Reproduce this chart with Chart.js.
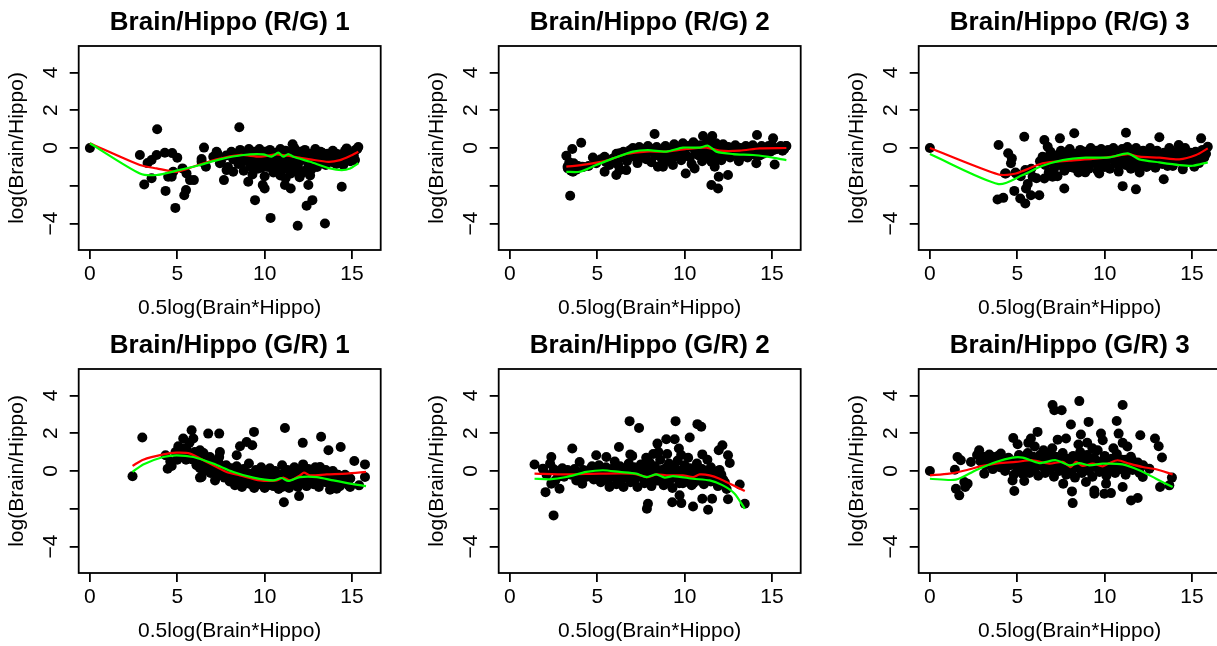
<!DOCTYPE html>
<html>
<head>
<meta charset="utf-8">
<script src="https://cdn.jsdelivr.net/npm/chart.js@4.4.1/dist/chart.umd.min.js"></script>
<style>
  html, body { margin: 0; padding: 0; background: #fff; overflow: hidden; width: 1217px; height: 646px; }
  canvas { position: absolute; }
</style>
</head>
<body>
<script>
// ---- data ----
const panelTitles = ['Brain/Hippo (R/G) 1', 'Brain/Hippo (R/G) 2', 'Brain/Hippo (R/G) 3',
                     'Brain/Hippo (G/R) 1', 'Brain/Hippo (G/R) 2', 'Brain/Hippo (G/R) 3'];
const xAxisLabel = '0.5log(Brain*Hippo)';
const yAxisLabel = 'log(Brain/Hippo)';
const xTicks = [0, 5, 10, 15];
const yTicks = [-4, -2, 0, 2, 4];
const yTickLabels = ['\u22124', '', '0', '2', '4'];
const xRange = [-0.64, 16.64];
const yRange = [-5.4, 5.4];

const rg1Points = [[0,0],[2.86,-0.37],[3.11,-1.93],[3.3,-0.8],[3.53,-0.64],[3.85,0.99],[3.82,-0.37],[3.53,-1.6],[4.29,-0.25],[4.33,-2.27],[4.48,-1.52],[4.71,-0.27],[5.0,-0.51],[4.68,-1.52],[4.89,-3.17],[4.77,-1.26],[5.3,-1.08],[5.4,-2.5],[5.5,-2.23],[5.53,-1.35],[5.73,-1.7],[5.95,-1.7],[6.39,-0.58],[6.53,0.02],[6.64,-0.99],[6.39,-0.73],[7.06,-0.46],[7.25,-0.2],[7.44,-0.81],[7.67,-1.7],[7.82,-1.17],[8.2,-1.26],[8.55,1.1],[9.06,-1.79],[9.45,-2.76],[9.89,-1.96],[10.0,-2.14],[10.34,-3.7],[11.16,-1.96],[11.49,-2.14],[11.89,-4.12],[12.5,-1.96],[12.4,-3.06],[12.73,-2.76],[13.45,-4.0],[14.41,-2.05],[14.69,-0.02],[15.36,0.05],[15.17,-0.64],[11.6,0.2],
  [7.3,-0.3],[7.5,-0.7],[7.8,-0.4],[7.9,-1.0],[8.1,-0.2],[8.2,-0.6],[8.4,-0.35],[8.5,-0.85],[8.6,-0.1],[8.7,-0.5],[8.8,-1.2],[8.9,-0.25],[9.0,-0.7],[9.1,-0.05],[9.2,-0.45],[9.3,-0.95],[9.4,-0.2],[9.5,-0.65],[9.6,-1.1],[9.7,-0.05],[9.8,-0.4],[9.9,-0.8],[10.0,-0.2],[10.1,-0.6],[10.2,-1.0],[10.3,-0.1],[10.4,-0.45],[10.5,-0.75],[10.6,-0.25],[10.7,-1.2],[10.8,-0.55],[10.9,-0.05],[11.0,-0.35],[11.1,-0.85],[11.2,-0.15],[11.3,-0.6],[11.4,-1.05],[11.5,-0.3],[11.6,-0.75],[11.7,0.0],[11.8,-0.45],[11.9,-0.95],[12.0,-0.2],[12.1,-0.65],[12.2,-1.3],[12.3,-0.1],[12.4,-0.5],[12.5,-0.85],[12.6,-0.3],[12.7,-1.1],[12.8,-0.6],[12.9,-0.05],[13.0,-0.4],[13.1,-0.8],[13.2,-0.2],[13.3,-0.55],[13.5,-0.9],[13.6,-0.3],[13.7,-0.65],[13.9,-0.15],[14.0,-0.5],[14.1,-0.85],[14.3,-0.35],[14.5,-0.6],[14.6,-0.15],[14.8,-0.45],[15.0,-0.25],[15.1,-0.6],[15.2,-0.1],
  [9.3,-1.4],[10.0,-1.5],[10.9,-1.45],[11.2,-1.6],[11.5,-1.35],[12.0,-1.55],[12.6,-1.45],[10.5,-1.3],[11.8,-1.2],
  [8.3,-0.5],[8.5,-0.25],[8.7,-0.75],[8.9,-0.5],[9.1,-0.3],[9.3,-0.65],[9.5,-0.4],[9.7,-0.8],[9.9,-0.25],[10.1,-0.5],[10.3,-0.8],[10.5,-0.3],[10.7,-0.6],[10.9,-0.9],[11.1,-0.4],[11.3,-0.25],[11.5,-0.65],[11.7,-0.45],[11.9,-0.7],[12.1,-0.3],[12.3,-0.6],[12.5,-0.45],[12.7,-0.8],[12.9,-0.35],[13.1,-0.55],[13.3,-0.25],[13.5,-0.6],[13.7,-0.4],[13.9,-0.75],[14.1,-0.3],[14.3,-0.6],[14.5,-0.9],[14.7,-0.35],[14.9,-0.7],[15.1,-0.4],[15.3,-0.05],[9.2,-1.0],[9.8,-1.05],[10.6,-1.0],[11.2,-1.1],[11.9,-1.1],[12.4,-1.15],[13.0,-1.0]];
const rg1Red = [[0,0.25],[2.86,-0.9],[3.82,-1.08],[4.96,-1.26],[5.92,-0.99],[7.25,-0.6],[8.59,-0.37],[9.73,-0.46],[10.69,-0.34],[11.64,-0.46],[12.6,-0.6],[13.65,-0.73],[14.31,-0.64],[14.89,-0.42],[15.36,-0.2]];
const rg1Green = [[0,0.25],[2.86,-1.35],[3.82,-1.43],[4.96,-1.2],[6.3,-0.9],[7.44,-0.6],[8.78,-0.37],[9.92,-0.34],[10.4,-0.46],[10.78,-0.25],[11.07,-0.46],[11.35,-0.32],[11.64,-0.46],[12.6,-0.73],[13.74,-1.08],[14.41,-1.17],[14.89,-1.08],[15.36,-0.81]];

const rg2Points = [[3.23,-0.41],[3.57,-0.05],[3.32,-1.08],[3.45,-2.53],[3.65,-0.81],[4.08,0.28],[3.61,-1.26],[4.14,-0.99],[4.75,-0.5],[4.94,-0.81],[5.42,-0.46],[5.42,-1.26],[5.74,-0.78],[6.09,-1.43],[6.28,-1.17],[6.66,-1.17],[6.28,-0.28],[7.04,0],[7.42,-0.55],[8.28,0.74],[8.47,-0.99],[8.76,-0.99],[9.33,-0.9],[10.06,-1.35],[10.57,-1.08],[11.05,0.64],[11.58,0.64],[11.53,-0.73],[11.72,-0.99],[11.53,-1.96],[11.91,-2.14],[11.95,-1.52],[12.48,-1.43],[14.1,-0.81],[14.14,0.69],[15.06,0.51],[15.15,-0.87],[15.82,0.11],
  [3.3,-1.0],[3.4,-0.75],[3.5,-1.2],[3.6,-0.9],[3.8,-1.15],[3.9,-0.95],[4.2,-1.0],[4.5,-0.95],[4.9,-0.7],[5.2,-0.6],[5.5,-0.75],[5.7,-0.9],[5.9,-0.55],[6.1,-0.3],[6.2,-0.9],
  [6.3,-0.5],[6.5,-0.2],[6.7,-0.7],[6.9,-0.1],[7.1,-0.45],[7.3,-0.8],[7.4,0.05],[7.6,-0.3],[7.8,-0.6],[7.9,0.1],[8.0,-0.2],[8.1,-0.75],[8.3,-0.4],[8.4,0.05],[8.6,-0.15],[8.7,-0.6],[8.9,0.1],[9.0,-0.35],[9.1,-0.7],[9.3,-0.1],[9.4,0.2],[9.5,-0.45],[9.7,0.0],[9.8,-0.65],[9.9,0.25],[10.0,-0.25],[10.2,0.1],[10.3,-0.5],[10.4,-0.85],[10.5,0.3],[10.6,-0.15],[10.8,-0.4],[10.9,0.15],[11.0,-0.7],[11.1,0.05],[11.2,-0.25],[11.3,0.35],[11.4,-0.55],[11.5,0.1],[11.6,-0.2],[11.7,-0.8],[11.8,0.25],[11.9,-0.4],[12.0,0.0],[12.1,-0.65],[12.2,0.2],[12.3,-0.25],[12.5,0.05],[12.6,-0.5],[12.7,-0.15],[12.9,0.15],[13.0,-0.35],[13.1,-0.7],[13.2,0.0],[13.4,-0.25],[13.5,0.1],[13.6,-0.5],[13.8,-0.1],[13.9,0.15],[14.0,-0.35],[14.2,-0.05],[14.4,0.1],[14.5,-0.3],[14.7,0.0],[14.9,-0.2],[15.0,0.15],[15.3,-0.05],[15.5,0.1],[15.7,-0.05],
  [6.8,-0.35],[7.0,-0.15],[7.2,-0.5],[7.5,-0.3],[7.7,-0.05],[8.2,-0.05],[8.5,-0.35],[8.8,-0.2],[9.2,-0.45],[9.6,-0.2],[10.1,-0.4],[10.4,0.05],[10.7,-0.3],[11.0,0.0],[11.3,-0.35],[11.6,0.05],[11.9,-0.2],[12.2,-0.45],[12.4,-0.1],[12.8,-0.35],[13.1,-0.05],[13.3,-0.45],[13.7,-0.2],[14.1,-0.15],[14.3,-0.4],[14.6,-0.15],[14.8,0.1],[15.1,-0.1],[15.4,0.0],[15.6,-0.15],[15.8,0.1]];
const rg2Red = [[3.23,-0.99],[4.37,-0.87],[5.52,-0.67],[6.66,-0.32],[7.81,-0.19],[8.95,-0.19],[10.1,-0.05],[11.24,0.02],[12.0,-0.14],[13.15,-0.14],[14.29,-0.02],[15.82,0]];
const rg2Green = [[3.23,-1.26],[3.99,-1.26],[4.94,-0.9],[5.9,-0.55],[7.04,-0.19],[7.9,-0.11],[8.95,-0.19],[9.9,0.02],[10.86,0.02],[11.34,0.12],[11.81,-0.19],[12.77,-0.32],[13.91,-0.37],[14.68,-0.46],[15.82,-0.64]];

const rg3Points = [[0,0],[3.93,0.16],[3.87,-2.73],[4.2,-2.64],[4.48,-0.28],[4.69,-0.55],[4.64,-0.81],[4.35,-1.35],[4.83,-2.27],[4.92,-1.35],[5.4,0.6],[5.17,-2.67],[5.46,-2.94],[5.5,-2.14],[5.78,-2.5],[5.46,-1.17],[5.88,-1.52],[6.26,-2.5],[6.55,0.42],[6.74,0.07],[6.55,-1.61],[6.45,-0.46],[7.02,-1.52],[7.44,0.51],[7.69,-2.14],[8.26,0.78],[7.4,-0.46],[8.89,-1.29],[9.69,-1.35],[11.03,-2.02],[11.22,0.81],[11.79,-2.19],[13.13,0.57],[13.38,-1.65],[14.24,0.16],[15.52,0.51],[15.9,0.07],[14.47,-1.13],[15.13,-0.99],
  [4.3,-1.35],[4.9,-1.3],[5.2,-1.5],[5.6,-1.9],[5.8,-1.1],[6.1,-1.6],[6.3,-0.7],
  [6.6,-0.9],[6.7,-0.5],[6.8,-1.3],[6.9,-0.2],[7.0,-0.75],[7.1,-1.1],[7.2,-0.4],[7.3,-1.5],[7.4,-0.9],[7.5,-0.15],[7.6,-0.6],[7.7,-1.2],[7.8,-0.35],[7.9,-0.85],[8.0,-0.05],[8.1,-0.55],[8.2,-1.05],[8.3,-0.3],[8.4,-0.75],[8.5,-1.3],[8.6,-0.1],[8.7,-0.5],[8.8,-0.95],[8.9,-0.2],[9.0,-0.65],[9.1,-1.1],[9.2,0.0],[9.3,-0.4],[9.4,-0.8],[9.5,-0.15],[9.6,-1.2],[9.7,-0.55],[9.8,-0.05],[9.9,-0.95],[10.0,-0.3],[10.1,-0.7],[10.2,-0.1],[10.3,-1.1],[10.4,-0.45],[10.5,0.0],[10.6,-0.8],[10.7,-0.25],[10.8,-1.25],[10.9,-0.6],[11.0,-0.05],[11.1,-0.35],[11.2,-0.9],[11.3,0.05],[11.4,-0.55],[11.5,-1.1],[11.6,-0.2],[11.7,-0.75],[11.8,0.0],[11.9,-0.4],[12.0,-1.3],[12.1,-0.8],[12.2,-0.15],[12.3,-0.55],[12.4,-1.0],[12.5,-0.3],[12.6,0.0],[12.7,-0.7],[12.8,-0.35],[12.9,-1.05],[13.0,-0.15],[13.1,-0.55],[13.3,-0.85],[13.4,-0.25],[13.6,-0.6],[13.7,0.0],[13.8,-0.4],[13.9,-0.95],[14.1,-0.2],[14.2,-0.65],[14.4,-0.4],[14.5,-0.9],[14.6,0.0],[14.8,-0.5],[14.9,-0.25],[15.1,-0.75],[15.3,-0.35],[15.5,-0.55],[15.6,-0.1],[15.8,-0.3],
  [7.6,-0.9],[7.8,-0.6],[8.0,-1.0],[8.2,-0.4],[8.4,-1.1],[8.6,-0.7],[8.8,-0.35],[9.0,-0.9],[9.2,-0.6],[9.4,-0.3],[9.6,-0.8],[9.8,-0.45],[10.0,-1.0],[10.2,-0.6],[10.4,-0.2],[10.6,-0.5],[10.8,-0.9],[11.0,-0.7],[11.2,-0.3],[11.4,-0.8],[11.6,-0.5],[11.8,-1.0],[12.0,-0.2],[12.2,-0.7],[12.4,-0.4],[12.6,-0.9],[12.8,-0.55],[13.0,-0.3],[13.2,-0.7],[13.4,-0.45],[13.6,-0.95],[13.8,-0.2],[14.0,-0.6],[14.3,-0.3],[14.7,-0.7],[15.0,-0.45],[15.2,-0.2],[15.4,-0.8],[15.7,-0.5]];
const rg3Red = [[0,0],[3.93,-1.4],[4.92,-1.35],[6.45,-0.81],[7.98,-0.67],[9.31,-0.58],[10.46,-0.46],[11.32,-0.32],[11.98,-0.46],[13.13,-0.51],[14.27,-0.6],[15.23,-0.37],[15.9,-0.02]];
const rg3Green = [[0,-0.32],[3.93,-1.91],[5.31,-1.43],[6.45,-0.94],[7.6,-0.64],[8.93,-0.51],[10.27,-0.5],[11.32,-0.28],[11.98,-0.6],[13.13,-0.76],[14.27,-0.9],[15.04,-0.94],[15.9,-0.76]];

const gr1Points = [[2.44,-0.28],[3.0,1.77],[4.33,0.83],[4.45,0.12],[4.68,0.27],[5.06,1.31],[5.34,1.72],[5.82,2.16],[5.92,1.72],[5.53,1.19],[5.31,0.74],[6.3,1.1],[6.39,-0.32],[6.77,1.98],[6.87,0.74],[7.4,1.98],[7.44,1.0],[7.4,0.74],[7.16,-0.5],[8.59,1.31],[8.97,1.54],[9.29,1.36],[9.39,2.07],[8.4,0.83],[11.16,2.28],[11.1,-1.65],[11.97,-1.33],[12.18,1.49],[13.23,1.81],[13.65,1.1],[14.35,1.27],[15.13,0.53],[15.74,0.35],[15.74,-0.32],[15.4,-0.76],[14.89,-0.85],[14.12,-0.94],[13.74,-0.99],[13.17,0.21],
  [4.6,0.5],[4.9,1.0],[5.0,0.6],[5.2,0.85],[5.4,1.2],[5.5,0.6],[5.6,0.95],[5.8,0.65],[6.0,1.0],[5.7,1.5],[6.3,-0.35],[6.5,0.95],
  [5.9,0.6],[6.1,0.3],[6.2,0.9],[6.4,0.45],[6.5,0.0],[6.6,0.75],[6.7,0.25],[6.9,-0.1],[7.0,0.55],[7.1,0.15],[7.3,-0.25],[7.4,0.4],[7.5,0.0],[7.7,-0.35],[7.8,0.3],[7.9,-0.1],[8.0,-0.55],[8.1,0.15],[8.2,-0.3],[8.3,-0.75],[8.4,0.25],[8.5,-0.1],[8.6,-0.5],[8.7,-0.85],[8.8,0.1],[8.9,-0.3],[9.0,-0.65],[9.1,0.4],[9.2,-0.15],[9.3,-0.5],[9.4,-0.9],[9.5,0.05],[9.6,-0.3],[9.7,-0.7],[9.8,0.2],[9.9,-0.45],[10.0,-0.9],[10.1,-0.1],[10.2,-0.6],[10.3,0.15],[10.4,-0.35],[10.5,-0.8],[10.6,0.0],[10.7,-0.55],[10.8,-0.95],[10.9,-0.2],[11.0,0.3],[11.1,-0.7],[11.2,-0.4],[11.3,0.05],[11.4,-0.9],[11.5,-0.25],[11.6,-0.6],[11.7,0.2],[11.8,-0.4],[11.9,-0.85],[12.0,-0.05],[12.1,-0.6],[12.2,0.35],[12.3,-0.3],[12.4,-0.8],[12.5,0.1],[12.6,-0.5],[12.7,-0.15],[12.8,-0.7],[12.9,0.2],[13.0,-0.4],[13.1,-0.85],[13.2,-0.1],[13.4,-0.55],[13.5,0.05],[13.6,-0.3],[13.8,-0.7],[13.9,0.0],[14.0,-0.45],[14.2,-0.2],[14.3,-0.8],[14.5,-0.35],[14.7,-0.6],[14.9,-0.4],
  [6.3,0.15],[6.6,0.45],[6.8,0.1],[7.0,0.3],[7.2,-0.1],[7.5,0.25],[7.7,-0.1],[8.0,0.0],[8.2,-0.5],[8.4,-0.2],[8.6,-0.6],[8.8,-0.35],[9.0,-0.1],[9.2,-0.7],[9.4,-0.3],[9.6,-0.55],[9.8,-0.15],[10.0,-0.45],[10.2,-0.75],[10.4,-0.2],[10.6,-0.6],[10.8,-0.35],[11.0,-0.85],[11.2,-0.1],[11.4,-0.5],[11.6,-0.25],[11.8,-0.7],[12.0,-0.4],[12.2,-0.1],[12.4,-0.55],[12.6,-0.25],[12.8,-0.4],[13.0,-0.7],[13.2,-0.3],[13.5,-0.6],[13.8,-0.4],[14.0,-0.15],[14.3,-0.55],[14.6,-0.2],[14.8,-0.75]];
const gr1Red = [[2.44,0.27],[3.05,0.6],[4.2,0.88],[4.96,0.97],[5.73,0.92],[6.68,0.48],[7.82,-0.05],[8.59,-0.23],[9.73,-0.5],[10.69,-0.5],[11.07,-0.35],[11.45,-0.5],[12.02,-0.23],[12.25,-0.09],[12.6,-0.23],[13.55,-0.18],[14.69,-0.14],[15.8,-0.05]];
const gr1Green = [[2.44,-0.05],[3.05,0.35],[4.2,0.74],[4.96,0.83],[5.92,0.74],[7.06,0.39],[8.21,-0.05],[9.35,-0.35],[10.5,-0.5],[10.97,-0.37],[11.35,-0.53],[12.02,-0.32],[12.98,-0.32],[13.93,-0.5],[14.89,-0.67],[15.8,-0.8]];

const gr2Points = [[1.41,0.34],[1.89,0.12],[2.04,-1.12],[2.37,0.74],[2.5,-2.35],[2.37,-0.67],[2.84,-0.94],[2.75,-0.32],[3.57,1.19],[3.99,0.48],[4.14,-0.67],[4.94,0.83],[5.52,0.74],[6.24,1.27],[6.85,2.64],[7.39,2.28],[6.89,0.88],[7.9,-1.73],[7.84,-2.0],[8.44,1.45],[8.95,1.68],[9.43,1.68],[9.48,2.64],[9.67,1.19],[9.29,-1.65],[9.81,-1.7],[9.71,-1.29],[10.29,1.77],[10.48,-1.88],[10.73,2.48],[10.95,2.34],[11.01,0.88],[11.01,-1.47],[11.34,-2.05],[11.57,-1.47],[11.95,1.1],[12.16,1.36],[12.48,0.83],[12.58,0.42],[12.48,-1.5],[13.15,-0.71],[13.44,-1.73],
  [1.9,0.1],[2.1,-0.2],[2.3,0.4],[2.5,0.1],[2.6,-0.5],[2.8,0.0],[3.0,0.15],[3.1,-0.3],[3.3,0.05],[3.5,-0.2],[3.7,0.1],[3.8,-0.5],[4.0,-0.2],[4.2,0.05],[4.4,-0.3],[4.6,0.1],[4.8,-0.45],[4.9,-0.1],[5.1,0.3],[5.2,-0.6],[5.3,-0.2],[5.5,0.2],[5.6,-0.5],[5.7,-0.85],[5.8,0.05],[5.9,-0.3],[6.0,0.5],[6.1,-0.7],[6.2,-0.1],[6.3,0.25],[6.4,-0.45],[6.5,-0.85],[6.6,0.05],[6.7,-0.3],[6.8,0.4],[6.9,-0.6],[7.0,-0.1],[7.1,0.2],[7.2,-0.4],[7.3,-0.85],[7.4,0.0],[7.5,0.35],[7.6,-0.25],[7.7,-0.65],[7.8,0.1],[7.9,-0.4],[8.0,0.45],[8.1,-0.8],[8.2,-0.15],[8.3,0.25],[8.4,-0.5],[8.5,0.0],[8.6,0.6],[8.7,-0.3],[8.8,-0.75],[8.9,0.15],[9.0,-0.5],[9.1,0.4],[9.2,-0.1],[9.3,-0.9],[9.4,0.2],[9.5,-0.35],[9.6,0.55],[9.7,-0.65],[9.8,0.0],[9.9,-0.3],[10.0,0.3],[10.1,-0.55],[10.2,-0.1],[10.3,0.15],[10.4,-0.75],[10.5,-0.35],[10.6,0.05],[10.7,0.4],[10.8,-0.5],[10.9,-0.2],[11.0,0.1],[11.1,-0.7],[11.2,-0.4],[11.4,0.0],[11.5,-0.55],[11.7,-0.25],[11.9,-0.8],[12.0,0.05],[12.2,-0.45],[12.4,-0.95],
  [7.0,0.8],[7.8,0.7],[8.2,0.9],[8.5,1.0],[9.0,0.9],[9.8,0.85],[10.2,0.7],[11.3,0.6],
  [4.5,-0.15],[4.7,0.25],[5.0,-0.3],[5.4,0.0],[5.7,-0.25],[5.9,0.15],[6.1,-0.4],[6.3,-0.05],[6.5,-0.3],[6.7,0.15],[6.9,-0.2],[7.1,-0.55],[7.3,0.1],[7.5,-0.3],[7.7,-0.05],[7.9,0.2],[8.1,-0.4],[8.3,-0.1],[8.5,-0.5],[8.7,0.05],[8.9,-0.25],[9.1,-0.6],[9.3,-0.2],[9.5,0.1],[9.7,-0.35],[9.9,-0.65],[10.1,0.05],[10.3,-0.3],[10.5,-0.65],[10.7,-0.05],[10.9,-0.45],[11.1,-0.15],[11.3,-0.5],[11.5,0.2],[11.7,-0.5],[11.9,0.0],[12.1,-0.2],[12.3,-0.6]];
const gr2Red = [[1.41,-0.14],[3.23,-0.18],[5.13,-0.14],[7.04,-0.14],[7.9,-0.32],[8.38,-0.18],[8.95,-0.23],[9.9,-0.23],[10.48,-0.32],[10.86,-0.18],[11.43,-0.23],[12.0,-0.41],[12.77,-0.76],[13.44,-1.06]];
const gr2Green = [[1.41,-0.41],[2.27,-0.44],[3.23,-0.32],[4.37,-0.05],[5.32,0.04],[6.28,-0.05],[7.23,-0.14],[7.81,-0.32],[8.38,-0.18],[8.86,-0.35],[9.33,-0.27],[10.48,-0.41],[11.43,-0.5],[12.19,-0.76],[12.86,-1.2],[13.44,-2.0]];

const gr3Points = [[0,0],[1.43,0.07],[1.49,-0.94],[1.58,0.74],[1.68,-1.29],[1.77,0.57],[1.97,-0.58],[2.02,-0.85],[2.16,-0.67],[2.35,0.48],[2.82,1.1],[3.11,-0.14],[3.4,0.87],[3.59,0.74],[4.06,0.92],[4.25,0.57],[4.77,1.75],[4.83,-1.06],[4.73,-0.5],[5.02,1.42],[5.63,1.49],[5.78,1.72],[6.16,2.07],[5.4,-0.53],[7.02,3.49],[7.12,3.22],[7.54,3.22],[7.31,1.66],[7.79,1.72],[7.63,-0.67],[8.07,2.46],[8.13,-1.08],[8.17,-1.7],[8.55,3.7],[8.64,1.93],[9.08,2.6],[8.93,-0.58],[9.41,-1.2],[9.41,-1.03],[9.79,1.98],[9.89,1.63],[10.08,-0.67],[9.98,-1.2],[10.36,-1.17],[10.69,2.65],[10.8,1.98],[11.03,3.49],[11.03,1.49],[11.03,-0.85],[11.51,-1.56],[11.89,-1.43],[12.04,1.89],[12.18,-0.32],[12.56,0.12],[12.88,1.72],[13.09,1.31],[13.28,0.71],[13.17,-0.85],[13.7,-0.76],[13.85,-0.35],[11.56,0.6],
  [2.7,0.85],[2.9,0.5],[3.1,0.75],[3.2,0.3],[3.4,0.6],[3.6,0.1],[3.7,0.45],[3.9,0.8],[4.0,0.2],[4.2,0.5],[4.3,0.0],[4.5,0.7],[4.6,0.3],[4.8,-0.2],[4.9,0.55],[5.0,0.1],[5.1,0.85],[5.2,0.35],[5.3,-0.15],[5.4,0.6],[5.5,0.15],[5.6,0.95],[5.7,-0.1],[5.8,0.4],[5.9,0.75],[6.0,0.1],[6.1,0.5],[6.2,-0.25],[6.3,0.85],[6.4,0.25],[6.5,0.6],[6.6,-0.1],[6.7,0.4],[6.8,0.9],[6.9,0.1],[7.0,0.55],[7.1,-0.3],[7.2,0.75],[7.3,0.25],[7.4,0.0],[7.5,0.5],[7.6,0.95],[7.7,0.15],[7.8,-0.2],[7.9,0.65],[8.0,0.35],[8.1,0.0],[8.2,0.8],[8.3,-0.35],[8.4,0.45],[8.5,0.15],[8.6,1.0],[8.7,-0.1],[8.8,0.6],[8.9,0.3],[9.0,0.85],[9.1,0.0],[9.2,0.45],[9.3,-0.3],[9.4,0.7],[9.5,0.2],[9.6,1.1],[9.7,-0.05],[9.8,0.5],[9.9,0.25],[10.0,0.8],[10.1,-0.25],[10.2,0.4],[10.3,0.05],[10.4,0.65],[10.5,0.3],[10.6,-0.1],[10.7,0.9],[10.8,0.45],[10.9,0.1],[11.0,0.6],[11.2,-0.2],[11.3,0.35],[11.5,0.75],[11.6,0.05],[11.8,0.4],[12.0,-0.1],[12.2,0.3],
  [6.0,1.3],[6.5,1.1],[7.0,1.2],[8.5,1.4],[9.0,1.5],[9.3,1.2],[10.5,1.2],[11.3,1.3],
  [3.3,0.45],[3.8,0.3],[4.1,0.6],[4.4,0.3],[4.7,0.5],[5.0,0.3],[5.3,0.7],[5.5,0.4],[5.7,0.2],[6.0,0.6],[6.2,0.3],[6.4,0.75],[6.6,0.2],[6.8,0.5],[7.0,0.2],[7.2,0.4],[7.4,0.7],[7.6,0.3],[7.8,0.5],[8.0,0.1],[8.2,0.4],[8.4,0.7],[8.6,0.3],[8.8,0.1],[9.0,0.45],[9.2,0.2],[9.4,0.55],[9.6,0.3],[9.8,0.1],[10.0,0.5],[10.2,0.15],[10.4,0.3],[10.6,0.55],[10.8,0.2],[11.0,0.35],[11.2,0.6],[11.4,0.1],[11.7,0.2],[11.9,0.45]];
const gr3Red = [[0,-0.23],[1.11,-0.14],[2.06,0.04],[3.02,0.27],[3.97,0.42],[4.92,0.48],[5.88,0.57],[6.83,0.39],[7.6,0.48],[8.07,0.21],[8.36,0.48],[8.74,0.27],[9.31,0.39],[9.89,0.25],[10.27,0.42],[10.74,0.57],[11.41,0.39],[12.18,0.21],[12.94,0.09],[13.89,-0.18]];
const gr3Green = [[0,-0.41],[1.49,-0.46],[2.63,0.04],[3.78,0.48],[4.73,0.71],[5.31,0.71],[6.26,0.42],[7.21,0.57],[7.98,0.3],[8.55,0.42],[9.12,0.3],[9.89,0.39],[11.03,0.35],[11.98,0.04],[12.94,-0.41],[13.89,-0.85]];

const panelPoints = [rg1Points, rg2Points, rg3Points, gr1Points, gr2Points, gr3Points];
const panelRed = [rg1Red, rg2Red, rg3Red, gr1Red, gr2Red, gr3Red];
const panelGreen = [rg1Green, rg2Green, rg3Green, gr1Green, gr2Green, gr3Green];

// ---- drawing ----
const FONT = '"Liberation Sans", Arial, Helvetica, sans-serif';
const CELL_W = 420, CELL_H = 323;

// R style box around the plot region
const boxPlugin = {
    id: 'plotBox',
    afterDatasetsDraw(chart) {
        const { ctx, chartArea: a } = chart;
        ctx.save();
        ctx.strokeStyle = '#000';
        ctx.lineWidth = 1.8;
        ctx.strokeRect(a.left, a.top, a.right - a.left, a.bottom - a.top);
        ctx.restore();
    }
};

function makePanel(i) {
    const canvas = document.createElement('canvas');
    canvas.width = CELL_W;
    canvas.height = CELL_H;
    canvas.style.left = Math.round((i % 3) * 420.15) + 'px';
    canvas.style.top = (Math.floor(i / 3) * CELL_H) + 'px';
    document.body.appendChild(canvas);

    const lineDs = (data, color) => ({
        data: data,
        showLine: true,
        borderColor: color,
        borderWidth: 2.2,
        pointRadius: 0,
        tension: 0.25,
        fill: false
    });

    new Chart(canvas, {
        type: 'scatter',
        data: {
            datasets: [
                lineDs(panelGreen[i], '#00FF00'),
                lineDs(panelRed[i], '#FF0000'),
                {
                    data: panelPoints[i],
                    pointRadius: 5,
                    pointBorderWidth: 0,
                    pointBackgroundColor: '#000',
                    pointBorderColor: '#000'
                }
            ]
        },
        options: {
            responsive: false,
            animation: false,
            devicePixelRatio: 1,
            layout: { padding: { left: 0, right: 39.3, top: 0, bottom: 0 } },
            plugins: {
                legend: { display: false },
                tooltip: { enabled: false },
                title: {
                    display: true,
                    text: panelTitles[i],
                    fullSize: false,
                    color: '#000',
                    font: { family: FONT, size: 26, weight: 'bold', lineHeight: 1.2 },
                    padding: { top: 7.6, bottom: 7.2 }
                }
            },
            scales: {
                x: {
                    type: 'linear',
                    min: xRange[0],
                    max: xRange[1],
                    afterBuildTicks: s => { s.ticks = xTicks.map(v => ({ value: v })); },
                    afterFit: s => { s.height = 73; },
                    border: { display: false },
                    grid: { drawOnChartArea: false, drawTicks: true, tickLength: 9, color: '#000', lineWidth: 1.8 },
                    ticks: { color: '#000', font: { family: FONT, size: 21 }, padding: 2.4, maxRotation: 0, autoSkip: false },
                    title: { display: true, text: xAxisLabel, color: '#000', font: { family: FONT, size: 21 }, padding: { top: 0, bottom: 2.4 } }
                },
                y: {
                    type: 'linear',
                    min: yRange[0],
                    max: yRange[1],
                    afterBuildTicks: s => { s.ticks = yTicks.map(v => ({ value: v })); },
                    afterFit: s => { s.width = 78.7; },
                    border: { display: false },
                    grid: { drawOnChartArea: false, drawTicks: true, tickLength: 9, color: '#000', lineWidth: 1.8 },
                    ticks: {
                        color: '#000',
                        font: { family: FONT, size: 21 },
                        padding: 6.5,
                        minRotation: 90,
                        maxRotation: 90,
                        crossAlign: 'center',
                        autoSkip: false,
                        callback: (v) => {
                            const k = yTicks.indexOf(v);
                            return k >= 0 ? yTickLabels[k] : '';
                        }
                    },
                    title: { display: true, text: yAxisLabel, color: '#000', font: { family: FONT, size: 21 }, padding: { top: 4.9, bottom: 0 } }
                }
            }
        },
        plugins: [boxPlugin]
    });
}

for (let i = 0; i < 6; i++) makePanel(i);
</script>
</body>
</html>
